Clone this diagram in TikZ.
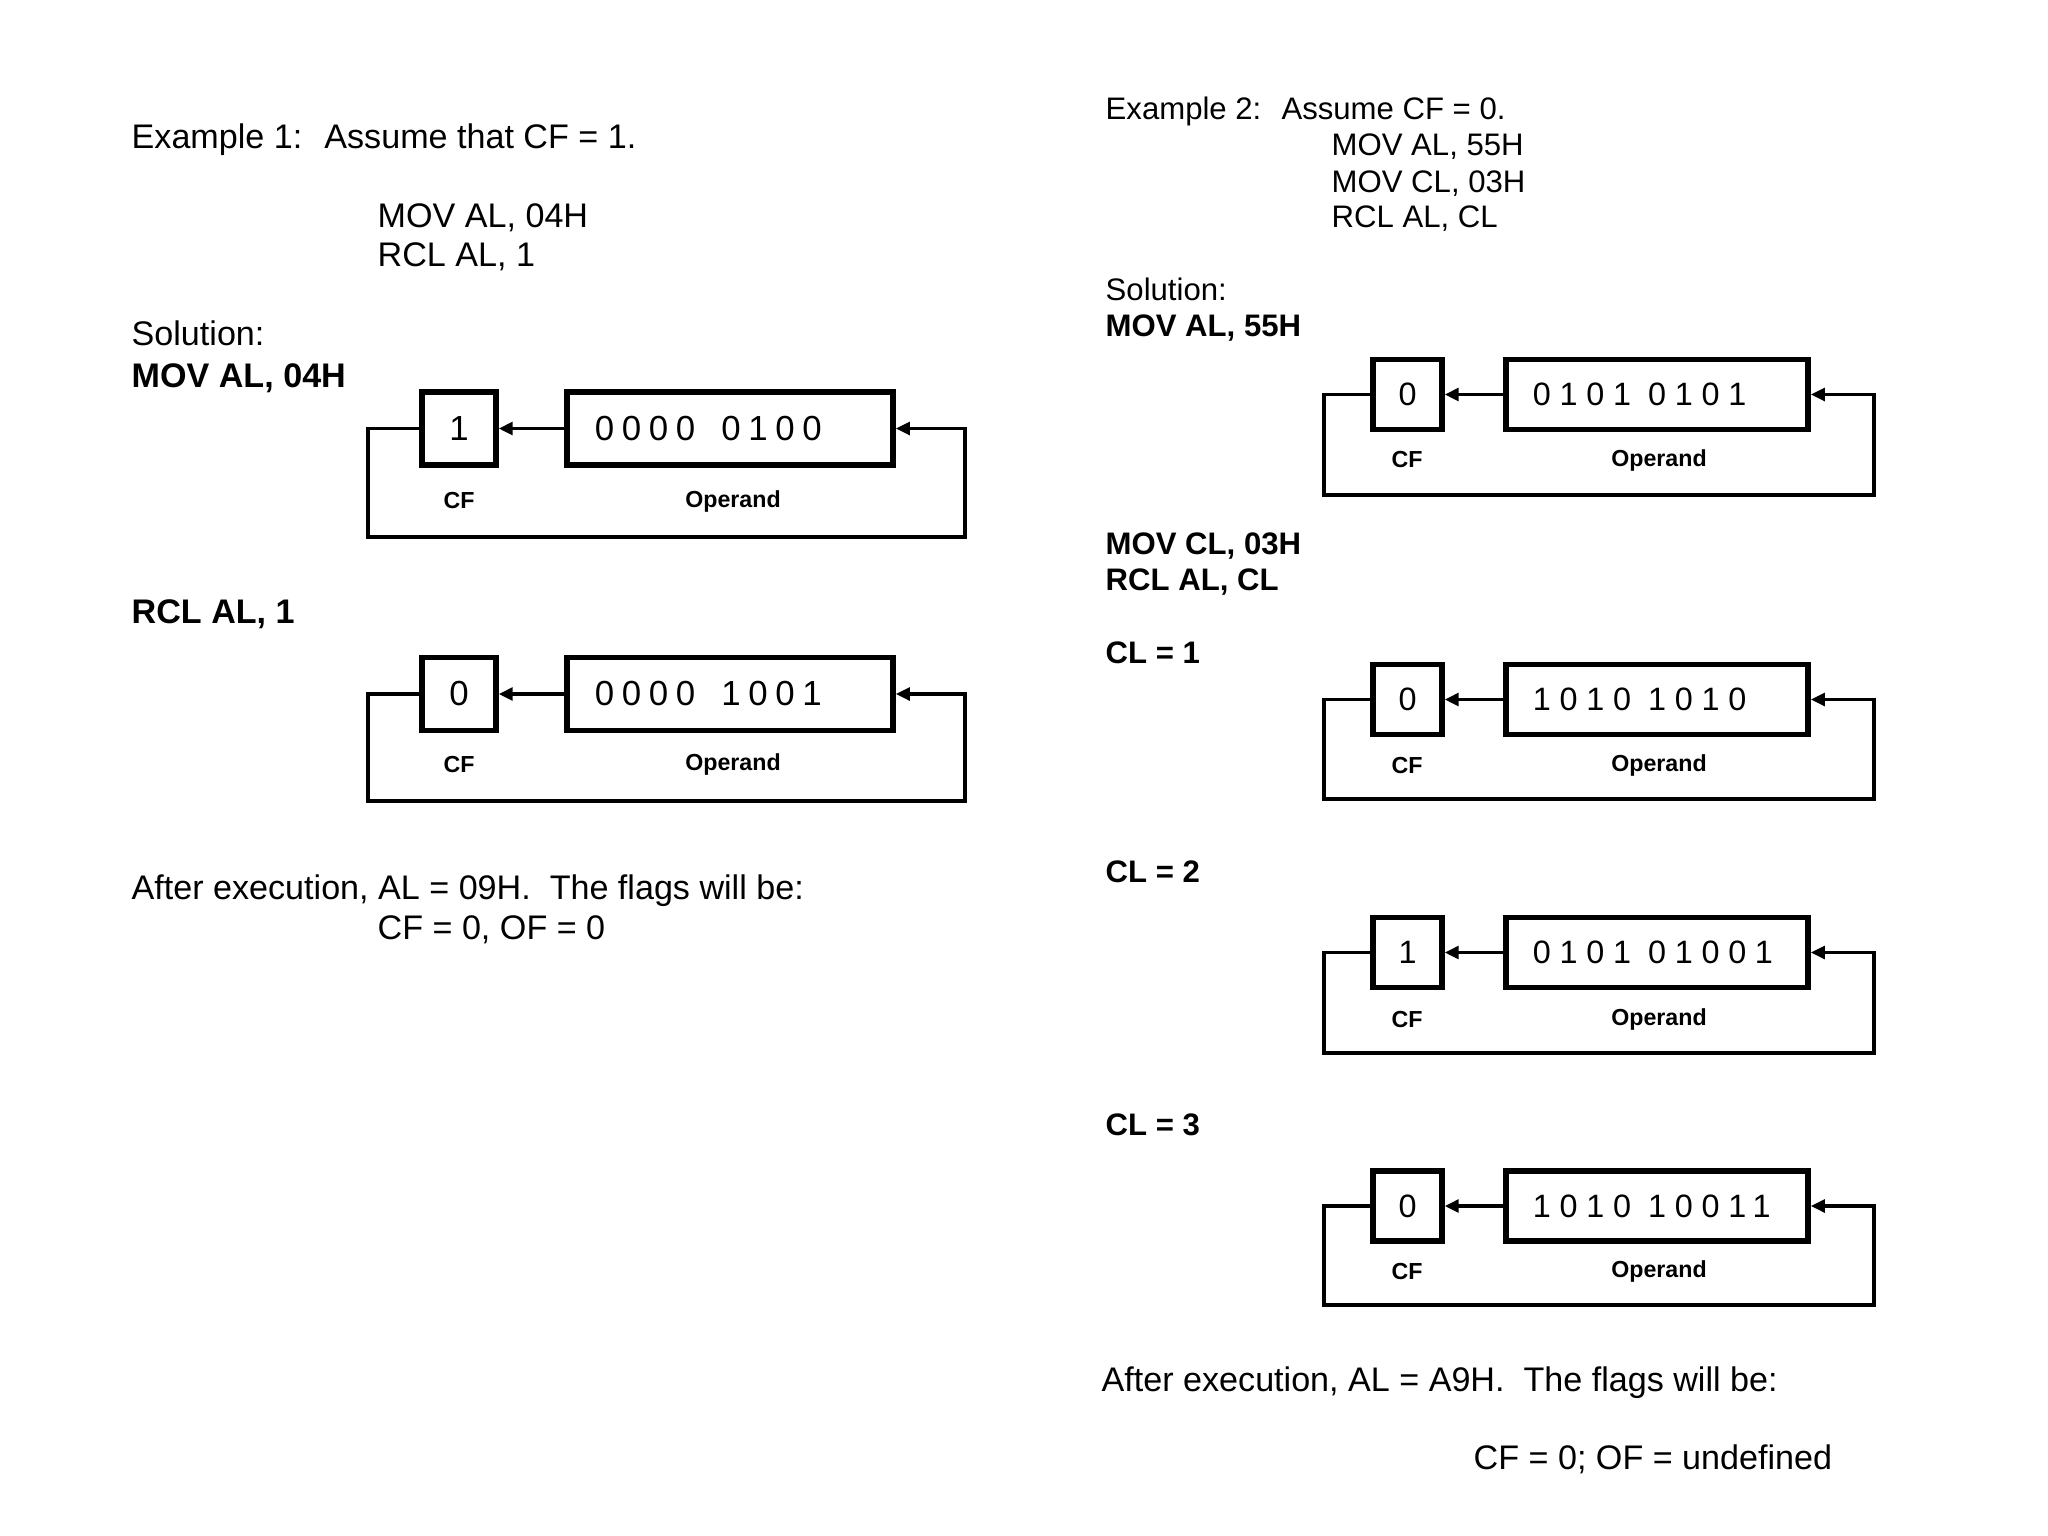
\documentclass[tikz,border=0pt]{standalone}
\usepackage{fontspec}
\setmainfont{Liberation Sans}
\newfontfamily\digL[LetterSpace=22]{Liberation Sans}
\newfontfamily\digR[LetterSpace=27]{Liberation Sans}
\usetikzlibrary{arrows.meta}
\newcommand\gapL{\hspace{0.26cm}}
\newcommand\gapR{\hspace{0.17cm}}
\tikzset{
  txt/.style={anchor=base west, inner sep=0pt, font=\fontsize{9.7}{11}\selectfont},
  txtb/.style={txt, font=\fontsize{9.7}{11}\selectfont\bfseries},
  rtxt/.style={anchor=base west, inner sep=0pt, font=\fontsize{8.85}{10}\selectfont},
  rtxtb/.style={rtxt, font=\fontsize{8.85}{10}\selectfont\bfseries},
  lbl/.style={inner sep=0pt, font=\fontsize{6.6}{8}\selectfont\bfseries},
  cfL/.style={draw, line width=1.5pt, minimum width=0.74cm, minimum height=0.73cm, inner sep=0pt, font=\fontsize{9.9}{12}\selectfont},
  cfR/.style={draw, line width=1.5pt, minimum width=0.69cm, minimum height=0.70cm, inner sep=0pt, font=\fontsize{9.2}{11}\selectfont},
  opL/.style={draw, line width=1.5pt, minimum height=0.73cm, inner ysep=0pt, inner xsep=0.28cm, text width=2.70cm, align=left, font=\fontsize{9.9}{12}\selectfont\digL},
  opR/.style={draw, line width=1.5pt, minimum height=0.70cm, inner ysep=0pt, inner xsep=0.27cm, text width=2.48cm, align=left, font=\fontsize{9.2}{11}\selectfont\digR},
  arr/.style={line width=1.1pt, -{Triangle[length=4pt,width=3.6pt]}},
}
\begin{document}
\begin{tikzpicture}[x=0.01cm, y=-0.01cm]
\useasboundingbox (0,0) rectangle (2048,1536);
\fill[white] (0,0) rectangle (2048,1536);

% ---------- Example 1 ----------
\node[txt] (t1) at (131,148) {Example 1:~ Assume that CF = 1.};
\node[txt] (t2) at (377,227) {MOV AL, 04H};
\node[txt] (t3) at (377,266) {RCL AL, 1};
\node[txt] (t4) at (131,345) {Solution:};
\node[txtb] (t5) at (131,387) {MOV AL, 04H};

\node[cfL] (c1) at (459,428.5) {1};
\node[opL] (o1) at (730,428.5) {0000\gapL0100};
\node[lbl] (c1l) at (459,501) {CF};
\node[lbl] (o1l) at (733,501) {Operand};
\coordinate (l1) at (368,537);
\coordinate (r1) at (965,537);
\draw[arr] (o1.west) -- (c1.east);
\draw[arr] (c1.west) -| (l1) -- (r1) |- (o1.east);

\node[txtb] (t6) at (131,623) {RCL AL, 1};

\node[cfL] (c2) at (459,694) {0};
\node[opL] (o2) at (730,694) {0000\gapL1001};
\node[lbl] (c2l) at (459,764) {CF};
\node[lbl] (o2l) at (733,764) {Operand};
\coordinate (l2) at (368,801);
\coordinate (r2) at (965,801);
\draw[arr] (o2.west) -- (c2.east);
\draw[arr] (c2.west) -| (l2) -- (r2) |- (o2.east);

\node[txt] (t7) at (131,899) {After execution, AL = 09H.~ The flags will be:};
\node[txt] (t8) at (377,939) {CF = 0, OF = 0};

% ---------- Example 2 ----------
\node[rtxt] (s1) at (1105,119) {Example 2:~ Assume CF = 0.};
\node[rtxt] (s2) at (1331,155) {MOV AL, 55H};
\node[rtxt] (s3) at (1331,192) {MOV CL, 03H};
\node[rtxt] (s4) at (1331,227) {RCL AL, CL};
\node[rtxt] (s5) at (1105,300) {Solution:};
\node[rtxtb] (s6) at (1105,336) {MOV AL, 55H};

\node[cfR] (ca) at (1407.5,394.5) {0};
\node[opR] (oa) at (1657,394.5) {0101\gapR0101};
\node[lbl] (cal) at (1407,460) {CF};
\node[lbl] (oal) at (1659,460) {Operand};
\coordinate (la) at (1324,495);
\coordinate (ra) at (1874,495);
\draw[arr] (oa.west) -- (ca.east);
\draw[arr] (ca.west) -| (la) -- (ra) |- (oa.east);

\node[rtxtb] (s7) at (1105,554) {MOV CL, 03H};
\node[rtxtb] (s8) at (1105,590) {RCL AL, CL};
\node[rtxtb] (s9) at (1105,663) {CL = 1};

\node[cfR] (cb) at (1407.5,699.5) {0};
\node[opR] (ob) at (1657,699.5) {1010\gapR1010};
\node[lbl] (cbl) at (1407,765) {CF};
\node[lbl] (obl) at (1659,765) {Operand};
\coordinate (lb) at (1324,799);
\coordinate (rb) at (1874,799);
\draw[arr] (ob.west) -- (cb.east);
\draw[arr] (cb.west) -| (lb) -- (rb) |- (ob.east);

\node[rtxtb] (s10) at (1105,882) {CL = 2};

\node[cfR] (cc) at (1407.5,952.5) {1};
\node[opR] (oc) at (1657,952.5) {0101\gapR01001};
\node[lbl] (ccl) at (1407,1019) {CF};
\node[lbl] (ocl) at (1659,1019) {Operand};
\coordinate (lc) at (1324,1053);
\coordinate (rc) at (1874,1053);
\draw[arr] (oc.west) -- (cc.east);
\draw[arr] (cc.west) -| (lc) -- (rc) |- (oc.east);

\node[rtxtb] (s11) at (1105,1135) {CL = 3};

\node[cfR] (cd) at (1407.5,1206) {0};
\node[opR] (od) at (1657,1206) {1010\gapR10011};
\node[lbl] (cdl) at (1407,1271) {CF};
\node[lbl] (odl) at (1659,1271) {Operand};
\coordinate (ld) at (1324,1305);
\coordinate (rd) at (1874,1305);
\draw[arr] (od.west) -- (cd.east);
\draw[arr] (cd.west) -| (ld) -- (rd) |- (od.east);

\node[txt] (s12) at (1101,1391) {After execution, AL = A9H.~ The flags will be:};
\node[txt] (s13) at (1473,1469) {CF = 0; OF = undefined};
\end{tikzpicture}
\end{document}
